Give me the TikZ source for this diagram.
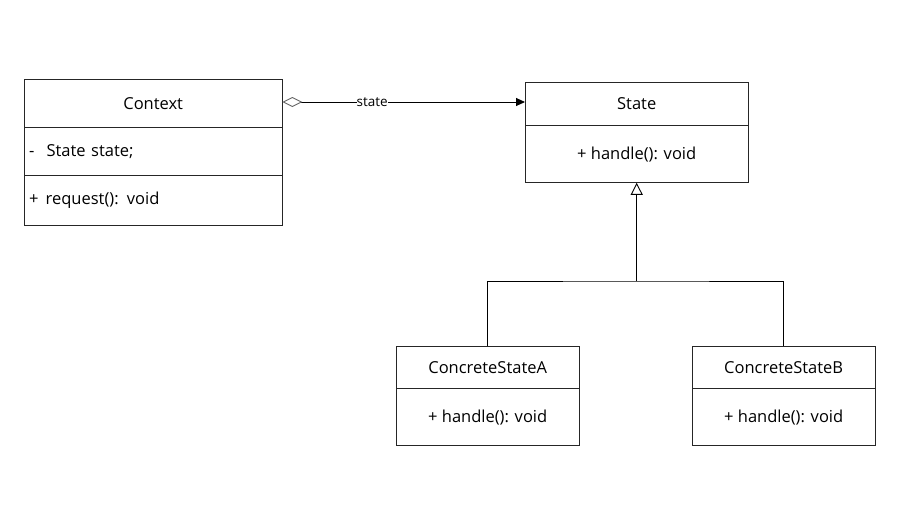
\documentclass[tikz,border=0pt]{standalone}
\usepackage{fontspec}
\setmainfont{Open Sans}
\usetikzlibrary{arrows.meta}
\begin{document}
\begin{tikzpicture}[x=1pt,y=-1pt,
  comp/.style={anchor=north west,inner sep=0pt,font=\fontsize{16.5}{19}\selectfont},
  lcomp/.style={comp,align=left,text width=#1,inner xsep=5pt},
  box/.style={draw=black!85,line width=0.9pt},
  conn/.style={line width=0.9pt,draw=black}]
\path[fill=white] (0,0) rectangle (911,504);
% Context
\node[comp,minimum width=258pt,minimum height=48pt] (ctxT) at (24,79) {Context};
\node[lcomp=248pt,minimum width=258pt,minimum height=48pt] (ctxA) at (ctxT.south west) {-\hspace{12pt}State state;};
\node[lcomp=248pt,minimum width=258pt,minimum height=49pt] (ctxM) at (ctxA.south west) {+\hspace{7pt}request(): void};
\draw[box] (ctxT.north west) rectangle (ctxM.south east);
\draw[box] (ctxT.south west) -- (ctxT.south east);
\draw[box] (ctxA.south west) -- (ctxA.south east);
% State
\node[comp,minimum width=223pt,minimum height=43pt] (stT) at (525,82) {State};
\node[comp,minimum width=223pt,minimum height=57pt] (stM) at (stT.south west) {+ handle(): void};
\draw[box] (stT.north west) rectangle (stM.south east);
\draw[box] (stT.south west) -- (stT.south east);
% ConcreteStateA
\node[comp,minimum width=183pt,minimum height=42pt] (caT) at (396,346) {ConcreteStateA};
\node[comp,minimum width=183pt,minimum height=57pt] (caM) at (caT.south west) {+ handle(): void};
\draw[box] (caT.north west) rectangle (caM.south east);
\draw[box] (caT.south west) -- (caT.south east);
% ConcreteStateB
\node[comp,minimum width=183pt,minimum height=42pt] (cbT) at (692,346) {ConcreteStateB};
\node[comp,minimum width=183pt,minimum height=57pt] (cbM) at (cbT.south west) {+ handle(): void};
\draw[box] (cbT.north west) rectangle (cbM.south east);
\draw[box] (cbT.south west) -- (cbT.south east);
% association
\draw[conn,{Diamond[open,length=20pt,width=10pt,color=black!60]}-{Triangle[length=9pt,width=8pt]}]
  (ctxT.east |- 0,102) -- node[pos=0.37,fill=white,inner sep=0pt,font=\fontsize{13.5}{15}\selectfont]{state} (stT.west |- 0,102);
% inheritance
\coordinate (j) at (stT.center |- 0,281);
\draw[conn,-{Triangle[open,length=12pt,width=12pt]}] (j) -- (stM.south);
\draw[conn] (caT.north) |- (j) -| (cbT.north);
\end{tikzpicture}
\end{document}
